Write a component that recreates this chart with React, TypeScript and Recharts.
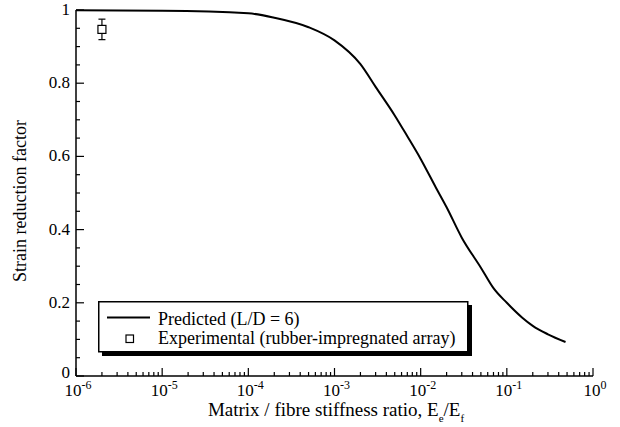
import React from "react";
import {
  ComposedChart,
  Line,
  Scatter,
  ErrorBar,
  XAxis,
  YAxis,
  Legend,
  Label,
} from "recharts";

// Predicted curve, L/D = 6
const curveX = [
  1e-6, 1e-5, 1e-4, 2e-4, 5e-4, 1e-3, 2e-3, 3e-3, 5e-3, 7e-3, 1e-2, 1.5e-2,
  2e-2, 3e-2, 5e-2, 7e-2, 0.1, 0.15, 0.2, 0.3, 0.48,
];
const curveY = [
  0.999, 0.998, 0.991, 0.979, 0.953, 0.917, 0.852, 0.79, 0.712, 0.655, 0.593,
  0.515, 0.461, 0.378, 0.296, 0.24, 0.2, 0.16, 0.137, 0.114, 0.093,
];

// Experimental point (rubber-impregnated array)
const expX = [2e-6];
const expY = [0.947];
const expErr = [0.028];

const xTicks: number[] = [];
for (let d = -6; d < 0; d++) {
  for (let m = 1; m <= 9; m++) xTicks.push(Number((m * Math.pow(10, d)).toPrecision(3)));
}
xTicks.push(1);

const yTicks = [
  0, 0.05, 0.1, 0.15, 0.2, 0.25, 0.3, 0.35, 0.4, 0.45, 0.5, 0.55, 0.6, 0.65,
  0.7, 0.75, 0.8, 0.85, 0.9, 0.95, 1,
];

const curve = curveX.map((x, i) => ({ x, y: curveY[i] }));
const exp = expX.map((x, i) => ({ x, y: expY[i], err: expErr[i] }));

const FONT = '"Liberation Serif", "Times New Roman", "DejaVu Serif", serif';
const tickTxt = { fontFamily: FONT, fontSize: 17, fill: "#000" };
const MAJOR = 8;
const MINOR = 4;

const isMajorX = (v: number) => {
  const l = Math.log10(v);
  return Math.abs(l - Math.round(l)) < 1e-6;
};
const isMajorY = (v: number) => Math.abs(v * 5 - Math.round(v * 5)) < 1e-6;

function BottomTick(props: any) {
  const { x, y, payload } = props;
  const major = isMajorX(payload.value);
  const exp10 = Math.round(Math.log10(payload.value));
  return (
    <g>
      <line x1={x} y1={y} x2={x} y2={y - (major ? MAJOR : MINOR)} stroke="#000" strokeWidth={1.2} />
      {major && (
        <text x={x + 2} y={y + 20} textAnchor="middle" style={tickTxt}>
          10
          <tspan dy={-7} style={{ fontSize: 12 }}>
            {exp10}
          </tspan>
        </text>
      )}
    </g>
  );
}

function TopTick(props: any) {
  const { x, y, payload } = props;
  const major = isMajorX(payload.value);
  return <line x1={x} y1={y} x2={x} y2={y + (major ? MAJOR : MINOR)} stroke="#000" strokeWidth={1.2} />;
}

function LeftTick(props: any) {
  const { x, y, payload } = props;
  const major = isMajorY(payload.value);
  const lift = payload.value === 0 ? 4 : 1;
  return (
    <g>
      <line x1={x} y1={y} x2={x + (major ? MAJOR : MINOR)} y2={y} stroke="#000" strokeWidth={1.2} />
      {major && (
        <text x={x - 6} y={y - lift} dy="0.35em" textAnchor="end" style={tickTxt}>
          {String(Math.round(payload.value * 10) / 10)}
        </text>
      )}
    </g>
  );
}

function RightTick(props: any) {
  const { x, y, payload } = props;
  const major = isMajorY(payload.value);
  return <line x1={x} y1={y} x2={x - (major ? MAJOR : MINOR)} y2={y} stroke="#000" strokeWidth={1.2} />;
}

function SquareMarker(props: any) {
  const { cx, cy } = props;
  return <rect x={cx - 4} y={cy - 4} width={8} height={8} fill="#fff" stroke="#000" strokeWidth={1.2} />;
}

function LegendBox() {
  const lt = { fontFamily: FONT, fontSize: 18, fill: "#000" };
  return (
    <svg width={376} height={57} style={{ display: "block" }}>
      <rect x={4} y={4} width={370} height={51} fill="#000" />
      <rect x={0.75} y={0.75} width={369} height={50} fill="#fff" stroke="#000" strokeWidth={1.5} />
      <line x1={9} y1={16.5} x2={52} y2={16.5} stroke="#000" strokeWidth={2} />
      <rect x={28} y={34} width={7.5} height={7.5} fill="#fff" stroke="#000" strokeWidth={1.2} />
      <text x={60} y={24} style={lt}>
        Predicted (L/D = 6)
      </text>
      <text x={60} y={43} style={lt}>
        Experimental (rubber-impregnated array)
      </text>
    </svg>
  );
}

export default function App() {
  return (
    <div style={{ position: "absolute", left: 0, top: 0, background: "#fff", fontFamily: FONT }}>
      <ComposedChart width={620} height={427} margin={{ top: 10, right: 27, bottom: 0, left: 0 }}>
        <XAxis
          dataKey="x"
          type="number"
          scale="log"
          domain={[1e-6, 1]}
          allowDataOverflow
          ticks={xTicks}
          interval={0}
          height={51}
          tickSize={0}
          tickMargin={0}
          tickLine={false}
          axisLine={{ stroke: "#000", strokeWidth: 1.5 }}
          tick={<BottomTick />}
        >
          <Label
            content={() => (
              <text x={336} y={416} textAnchor="middle" style={{ fontFamily: FONT, fontSize: 19, fill: "#000" }}>
                Matrix / fibre stiffness ratio, E
                <tspan dy={6} style={{ fontSize: 11 }}>e</tspan>
                <tspan dy={-6}>/E</tspan>
                <tspan dy={6} style={{ fontSize: 11 }}>f</tspan>
              </text>
            )}
          />
        </XAxis>
        <XAxis
          xAxisId="top"
          orientation="top"
          dataKey="x"
          type="number"
          scale="log"
          domain={[1e-6, 1]}
          allowDataOverflow
          ticks={xTicks}
          interval={0}
          height={0}
          tickSize={0}
          tickMargin={0}
          tickLine={false}
          axisLine={{ stroke: "#000", strokeWidth: 1.5 }}
          tick={<TopTick />}
        />
        <YAxis
          type="number"
          domain={[0, 1]}
          ticks={yTicks}
          interval={0}
          width={76}
          tickSize={0}
          tickMargin={0}
          tickLine={false}
          axisLine={{ stroke: "#000", strokeWidth: 1.5 }}
          tick={<LeftTick />}
        >
          <Label
            content={() => (
              <text
                x={26}
                y={201}
                transform="rotate(-90 26 201)"
                textAnchor="middle"
                style={{ fontFamily: FONT, fontSize: 18, fill: "#000" }}
              >
                Strain reduction factor
              </text>
            )}
          />
        </YAxis>
        <YAxis
          yAxisId="right"
          orientation="right"
          type="number"
          domain={[0, 1]}
          ticks={yTicks}
          interval={0}
          width={0}
          tickSize={0}
          tickMargin={0}
          tickLine={false}
          axisLine={{ stroke: "#000", strokeWidth: 1.5 }}
          tick={<RightTick />}
        />
        <Line
          data={curve}
          dataKey="y"
          type="monotone"
          stroke="#000"
          strokeWidth={2}
          dot={false}
          isAnimationActive={false}
          name="Predicted (L/D = 6)"
        />
        <Scatter
          data={exp}
          dataKey="y"
          shape={<SquareMarker />}
          isAnimationActive={false}
          name="Experimental (rubber-impregnated array)"
        >
          <ErrorBar dataKey="err" direction="y" width={3.5} stroke="#000" strokeWidth={1.2} />
        </Scatter>
        <Legend
          layout="vertical"
          align="center"
          verticalAlign="middle"
          wrapperStyle={{ left: 98, top: 301, width: 376, height: 57 }}
          content={() => <LegendBox />}
        />
      </ComposedChart>
    </div>
  );
}
